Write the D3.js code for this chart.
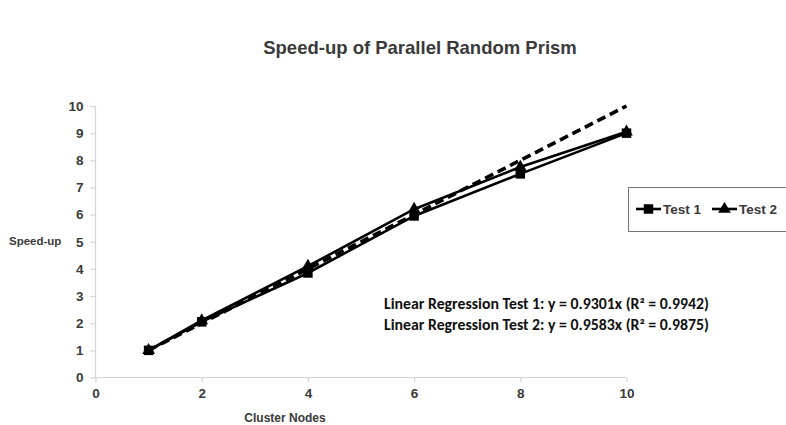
<!DOCTYPE html>
<html><head><meta charset="utf-8">
<script src="https://cdn.jsdelivr.net/npm/d3@7"></script>
<style>body{margin:0;background:#fff}svg{display:block}</style>
</head><body>
<svg id="c" width="786" height="425"></svg>
<script>
const nodes = [1, 2, 4, 6, 8, 10];
const test1 = [1, 2.05, 3.85, 5.95, 7.5, 9.0];
const test2 = [1, 2.1, 4.1, 6.2, 7.75, 9.05];
const ideal = [1, 2, 4, 6, 8, 10];
const xTicks = [0, 2, 4, 6, 8, 10];
const yTicks = [0, 1, 2, 3, 4, 5, 6, 7, 8, 9, 10];
const seriesNames = ["Test 1", "Test 2"];
const regressionLines = ["Linear Regression Test 1: y = 0.9301x (R\u00B2 = 0.9942)", "Linear Regression Test 2: y = 0.9583x (R\u00B2 = 0.9875)"];

const svg = d3.select("#c");
const x = d3.scaleLinear().domain([0, 10]).range([95.5, 626.5]);
const y = d3.scaleLinear().domain([0, 10]).range([377.5, 106]);
const axisColor = "#d4d4d4", txt = "#3a3a3a";
const arial = "Liberation Sans, Arial, sans-serif";

svg.append("text").attr("x", 420).attr("y", 54).attr("text-anchor", "middle")
  .attr("font-family", arial).attr("font-weight", "bold").attr("font-size", 18.5).attr("fill", txt)
  .text("Speed-up of Parallel Random Prism");

const gx = svg.append("g").attr("transform", `translate(0,${y(0)})`)
  .call(d3.axisBottom(x).tickValues(xTicks).tickSize(5).tickPadding(6));
const gy = svg.append("g").attr("transform", `translate(${x(0)},0)`)
  .call(d3.axisLeft(y).tickValues(yTicks).tickSize(5).tickPadding(7));
[gx, gy].forEach(g => {
  g.select(".domain").attr("stroke", axisColor).attr("stroke-width", 1.2);
  g.selectAll(".tick line").attr("stroke", axisColor).attr("stroke-width", 1.2);
  g.selectAll("text").attr("font-family", arial).attr("font-weight", "bold")
    .attr("font-size", 13.5).attr("fill", txt);
});
gx.select(".domain").attr("d", `M${x(0)},0H${x(10)}`);
gy.select(".domain").attr("d", `M0,${y(10)}V${y(0)}`);

svg.append("text").attr("x", 9).attr("y", 245).attr("font-family", arial).attr("font-weight", "bold")
  .attr("font-size", 11.5).attr("fill", txt).text("Speed-up");
svg.append("text").attr("x", 285).attr("y", 422).attr("text-anchor", "middle").attr("font-family", arial)
  .attr("font-weight", "bold").attr("font-size", 12).attr("fill", txt).text("Cluster Nodes");

const line = d3.line().x(d => x(d[0])).y(d => y(d[1]));
const pts = arr => nodes.map((n, i) => [n, arr[i]]);

svg.append("path").attr("d", line(pts(test1))).attr("fill", "none").attr("stroke", "#000").attr("stroke-width", 2.6);
svg.append("path").attr("d", line(pts(test2))).attr("fill", "none").attr("stroke", "#000").attr("stroke-width", 2.6);
svg.append("path").attr("d", line(pts(ideal))).attr("fill", "none").attr("stroke", "#000")
  .attr("stroke-width", 3.6).attr("stroke-dasharray", "9,5");

const sq = d3.symbol().type(d3.symbolSquare).size(90);
const tri = d3.symbol().type(d3.symbolTriangle).size(70);
svg.append("g").selectAll("path").data(pts(test2)).join("path")
  .attr("transform", d => `translate(${x(d[0])},${y(d[1])})`).attr("d", tri).attr("fill", "#000");
svg.append("g").selectAll("path").data(pts(test1)).join("path")
  .attr("transform", d => `translate(${x(d[0])},${y(d[1])})`).attr("d", sq).attr("fill", "#000");

// legend
svg.append("rect").attr("x", 628.5).attr("y", 187.5).attr("width", 170).attr("height", 44)
  .attr("fill", "#fff").attr("stroke", "#777").attr("stroke-width", 1);
const leg = [{x: 636, sym: sq, name: seriesNames[0]}, {x: 712, sym: tri, name: seriesNames[1]}];
leg.forEach(l => {
  svg.append("line").attr("x1", l.x).attr("x2", l.x + 25).attr("y1", 209).attr("y2", 209)
    .attr("stroke", "#000").attr("stroke-width", 2.6);
  svg.append("path").attr("transform", `translate(${l.x + 12.5},209)`).attr("d", l.sym).attr("fill", "#000");
  svg.append("text").attr("x", l.x + 27).attr("y", 214).attr("font-family", arial).attr("font-weight", "bold")
    .attr("font-size", 13.5).attr("fill", txt).text(l.name);
});

svg.append("g").selectAll("text").data(regressionLines).join("text")
  .attr("x", 384).attr("y", (d, i) => 309 + i * 21)
  .attr("font-family", "Carlito, Lato, 'Open Sans', sans-serif").attr("font-weight", "bold")
  .attr("font-size", 15).attr("textLength", 325).attr("lengthAdjust", "spacingAndGlyphs")
  .attr("fill", "#111").text(d => d);
</script>
</body></html>
